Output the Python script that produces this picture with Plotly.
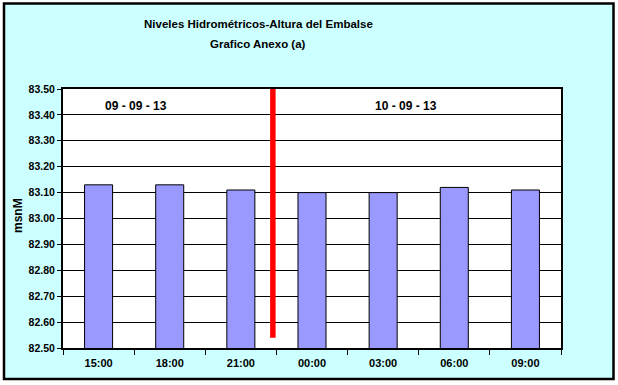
import plotly.graph_objects as go

categories = ["15:00", "18:00", "21:00", "00:00", "03:00", "06:00", "09:00"]
levels = [83.13, 83.13, 83.11, 83.10, 83.10, 83.12, 83.11]
y_ticks = [82.5, 82.6, 82.7, 82.8, 82.9, 83.0, 83.1, 83.2, 83.3, 83.4, 83.5]
divider_x = 2.45
divider_y = [82.54, 83.5]
date_labels = ["09 - 09 - 13", "10 - 09 - 13"]
date_label_x = [0.53, 4.32]
date_label_y = 83.435
title_lines = ["Niveles Hidrométricos-Altura del Embalse", "Grafico Anexo (a)"]

W, H = 618, 385
L, R, T, B = 63, 618 - 561, 89, 385 - 348
pw, ph = W - L - R, H - T - B

def px_x(x):
    return (x - L) / pw

def px_y(y):
    return (H - B - y) / ph

font = "Liberation Sans, Arial, sans-serif"

fig = go.Figure()
fig.add_trace(go.Bar(
    x=categories, y=levels,
    marker=dict(color="#9999FF", line=dict(color="black", width=1)),
    hoverinfo="x+y",
))

shapes = [
    dict(type="rect", xref="paper", yref="paper",
         x0=px_x(4), x1=px_x(613.5), y0=px_y(379), y1=px_y(3.5),
         fillcolor="#CCFFFF", line=dict(color="black", width=2.5), layer="below"),
    dict(type="rect", xref="paper", yref="paper", x0=0, x1=1, y0=0, y1=1,
         fillcolor="white", line=dict(width=0), layer="below"),
    dict(type="line", xref="x", yref="y", x0=divider_x, x1=divider_x,
         y0=divider_y[0], y1=divider_y[1], line=dict(color="#FF0000", width=5.5)),
]

annotations = [
    dict(text="<b>%s</b>" % date_labels[i], x=date_label_x[i], y=date_label_y,
         xref="x", yref="y", showarrow=False,
         font=dict(family=font, size=12, color="black"))
    for i in range(2)
]
for line, ypx in zip(title_lines, [24, 44]):
    annotations.append(dict(
        text="<b>%s</b>" % line,
        xref="paper", yref="paper", x=px_x(258), y=px_y(ypx),
        xanchor="center", yanchor="middle", showarrow=False,
        font=dict(family=font, size=11.5, color="black")))
annotations.append(dict(
    text="<b>msnM</b>", xref="paper", yref="paper", x=px_x(18), y=px_y(216),
    xanchor="center", yanchor="middle", textangle=-90, showarrow=False,
    font=dict(family=font, size=12, color="black")))

fig.update_layout(
    width=W, height=H,
    margin=dict(l=L, r=R, t=T, b=B, pad=0),
    paper_bgcolor="white", plot_bgcolor="white",
    bargap=0.606, showlegend=False,
    shapes=shapes, annotations=annotations,
    xaxis=dict(type="category", tickson="boundaries", ticks="outside", ticklen=5,
               tickcolor="black", tickwidth=1, showgrid=False,
               showline=True, linecolor="black", linewidth=2, mirror=True,
               tickfont=dict(family=font, size=11, color="black"),
               ticklabelstandoff=4,
               tickprefix="<b>", ticksuffix="</b>", fixedrange=True),
    yaxis=dict(range=[82.5, 83.5], tickvals=y_ticks,
               ticktext=["<b>%.2f</b>" % v for v in y_ticks],
               ticks="outside", ticklen=4, tickcolor="black", tickwidth=1,
               showgrid=True, gridcolor="black", gridwidth=1,
               showline=True, linecolor="black", linewidth=2, mirror=True,
               zeroline=False,
               tickfont=dict(family=font, size=10.5, color="black"), fixedrange=True),
)

fig.write_html("out.html")
